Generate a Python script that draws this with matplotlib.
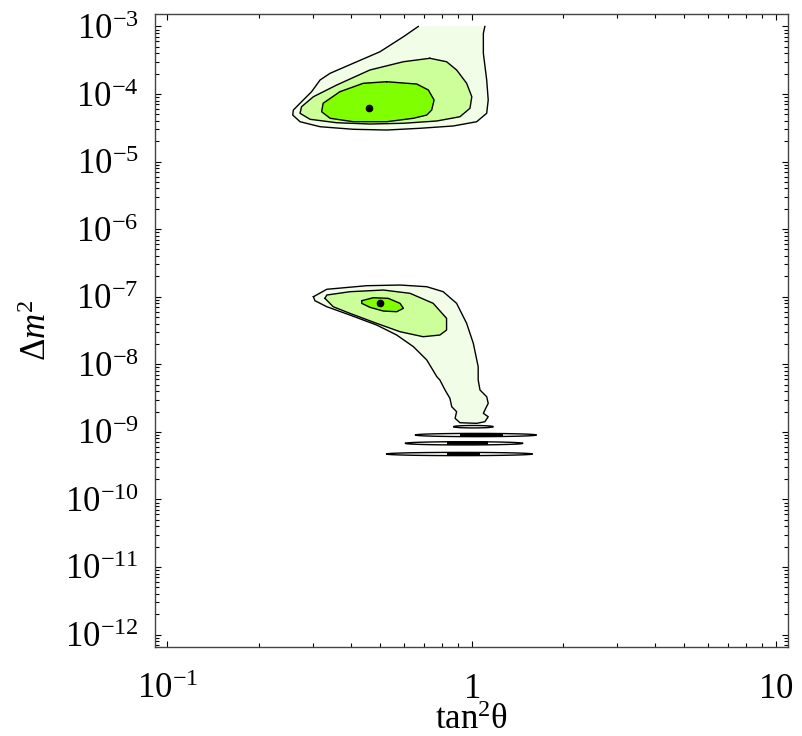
import numpy as np
import matplotlib
matplotlib.use("Agg")
import matplotlib.pyplot as plt
from matplotlib.ticker import FixedLocator, LogLocator, NullFormatter

plt.rcParams['font.family'] = ['Liberation Serif', 'DejaVu Serif']
plt.rcParams['mathtext.fontset'] = 'custom'
plt.rcParams['mathtext.rm'] = 'Liberation Serif'
plt.rcParams['mathtext.it'] = 'Liberation Serif:italic'
plt.rcParams['mathtext.bf'] = 'Liberation Serif:bold'

# ---- data: contour outlines given as log10(tan^2 theta), log10(dm^2) ----
# LMA region (upper)
lma_outer_lx = [-0.175, -0.224, -0.301, -0.389, -0.465, -0.498, -0.526, -0.559, -0.586, -0.588,
                -0.564, -0.498, -0.389, -0.279, -0.169, -0.060, 0.017, 0.050, 0.055, 0.050,
                0.039, 0.039, 0.044]
lma_outer_ly = [-3.000, -3.152, -3.374, -3.545, -3.693, -3.792, -3.966, -4.114, -4.237, -4.311,
                -4.410, -4.484, -4.522, -4.533, -4.507, -4.473, -4.410, -4.285, -4.089, -3.792,
                -3.397, -3.101, -3.000]
lma_mid_lx = [-0.137, -0.224, -0.334, -0.443, -0.520, -0.559, -0.564, -0.531, -0.443, -0.334,
              -0.224, -0.114, -0.038, -0.005, 0.001, -0.016, -0.049, -0.082]
lma_mid_ly = [-3.471, -3.522, -3.644, -3.866, -4.040, -4.188, -4.285, -4.374, -4.425, -4.444,
              -4.433, -4.399, -4.336, -4.211, -4.040, -3.841, -3.644, -3.522]
lma_in_lx = [-0.279, -0.356, -0.433, -0.488, -0.493, -0.465, -0.389, -0.279, -0.191, -0.147,
             -0.131, -0.123, -0.142, -0.180]
lma_in_ly = [-3.818, -3.841, -3.966, -4.137, -4.262, -4.359, -4.410, -4.410, -4.359, -4.311,
             -4.237, -4.089, -3.940, -3.852]
lma_best = (-0.337, -4.207)

# LOW region (lower)
low_outer_lx = [-0.520, -0.476, -0.345, -0.235, -0.147, -0.093, -0.049, -0.016, 0.006, 0.022,
                0.022, 0.028, 0.050, 0.055, 0.044, 0.039, 0.055, 0.044, 0.017, -0.038,
                -0.054, -0.049, -0.065, -0.071, -0.087, -0.104, -0.114, -0.147, -0.191, -0.246,
                -0.312, -0.400, -0.476, -0.515]
low_outer_ly = [-7.000, -6.890, -6.837, -6.827, -6.852, -6.926, -7.098, -7.394, -7.690, -8.036,
                -8.233, -8.381, -8.480, -8.578, -8.677, -8.726, -8.776, -8.850, -8.874, -8.865,
                -8.800, -8.702, -8.628, -8.504, -8.381, -8.233, -8.184, -7.937, -7.740, -7.567,
                -7.419, -7.271, -7.148, -7.059]
low_mid_lx = [-0.482, -0.476, -0.400, -0.290, -0.202, -0.126, -0.082, -0.082, -0.104, -0.159,
              -0.235, -0.312, -0.400, -0.455]
low_mid_ly = [-7.024, -6.975, -6.926, -6.901, -6.950, -7.098, -7.320, -7.493, -7.567, -7.592,
              -7.518, -7.394, -7.246, -7.148]
low_in_lx = [-0.361, -0.323, -0.274, -0.235, -0.224, -0.246, -0.290, -0.334, -0.361]
low_in_ly = [-7.059, -7.015, -7.024, -7.098, -7.172, -7.222, -7.212, -7.157, -7.098]
low_best = (-0.301, -7.098)

# thin islands below the LOW region
lens_ly = [-8.924, -9.047, -9.170, -9.328]
lens_lx_min = [-0.060, -0.186, -0.219, -0.281]
lens_lx_max = [0.072, 0.214, 0.170, 0.201]
lens_core_min = [None, -0.038, -0.082, -0.082]
lens_core_max = [None, 0.105, 0.055, 0.028]
lens_half = [0.018, 0.024, 0.024, 0.024]

x_major = [0.1, 1, 10]
x_major_labels = [r'$\mathdefault{10^{-1}}$', r'$\mathdefault{1}$', r'$\mathdefault{10}$']
x_minor = [0.2, 0.3, 0.4, 0.5, 0.6, 0.7, 0.8, 0.9, 2, 3, 4, 5, 6, 7, 8, 9]

c_outer = '#f2fde8'
c_mid = '#ccff99'
c_in = '#80ff00'

fig = plt.figure(figsize=(8.03, 7.36), dpi=100)
ax = fig.add_axes([155.3 / 803, 1 - 646.7 / 736, (787.7 - 155.3) / 803, (646.7 - 14.3) / 736])
ax.set_xscale('log')
ax.set_yscale('log')


def region(lx, ly, color, closed=True):
    x = 10 ** np.asarray(lx)
    y = 10 ** np.asarray(ly)
    ax.fill(x, y, color=color, lw=0, zorder=2)
    if closed:
        x = np.r_[x, x[:1]]
        y = np.r_[y, y[:1]]
    ax.plot(x, y, color='black', lw=1.0, solid_joinstyle='round', zorder=3)


region(lma_outer_lx, lma_outer_ly, c_outer, closed=False)
region(lma_mid_lx, lma_mid_ly, c_mid)
region(lma_in_lx, lma_in_ly, c_in)
region(low_outer_lx, low_outer_ly, c_outer)
region(low_mid_lx, low_mid_ly, c_mid)
region(low_in_lx, low_in_ly, c_in)

for bx, by in (lma_best, low_best):
    ax.plot(10 ** bx, 10 ** by, 'o', color='black', ms=4.5, zorder=5)

for ly, a, b, ca, cb, h in zip(lens_ly, lens_lx_min, lens_lx_max, lens_core_min, lens_core_max, lens_half):
    t = np.linspace(0, 1, 60)
    lx = a + (b - a) * t
    w = h * np.sqrt(np.clip(1 - (2 * t - 1) ** 2, 0, 1))
    xs = np.r_[lx, lx[::-1]]
    ys = np.r_[ly + w, (ly - w)[::-1]]
    ax.fill(10 ** xs, 10 ** ys, facecolor='#fbfff7', edgecolor='black', lw=1.0, zorder=3)
    if ca is not None:
        ax.plot([10 ** ca, 10 ** cb], [10 ** ly, 10 ** ly], color='black', lw=2.6,
                solid_capstyle='butt', zorder=4)

ax.set_xlim(10 ** -1.04, 10 ** 1.04)
ax.set_ylim(10 ** -12.18, 10 ** -2.82)

ax.xaxis.set_major_locator(FixedLocator(x_major))
ax.xaxis.set_minor_locator(FixedLocator(x_minor))
ax.xaxis.set_minor_formatter(NullFormatter())
ax.set_xticklabels(x_major_labels)
ax.yaxis.set_major_locator(LogLocator(base=10, numticks=30))
ax.yaxis.set_minor_locator(LogLocator(base=10, subs=np.arange(2, 10), numticks=300))
ax.yaxis.set_minor_formatter(NullFormatter())

ax.tick_params(which='both', direction='in', top=True, right=True, width=0.8, color='black')
ax.tick_params(which='major', length=4.5)
ax.tick_params(which='minor', length=2.6)
ax.tick_params(axis='both', labelsize=25)
ax.tick_params(axis='y', pad=12)
ax.tick_params(axis='x', pad=37)
for lab in ax.get_xticklabels():
    lab.set_verticalalignment('baseline')

for s in ax.spines.values():
    s.set_linewidth(1.0)
    s.set_color('#444444')

xl = ax.set_xlabel('tan$^2$θ', fontsize=25)
xl.set_verticalalignment('baseline')
ax.xaxis.set_label_coords(0.5, (646.7 - 729.0) / 632.4)
yl = ax.set_ylabel(r'$\Delta m^2$', fontsize=25)
ax.yaxis.set_label_coords((54.0 - 155.3) / 632.4, 0.5)

fig.savefig('out.png', dpi=100)
